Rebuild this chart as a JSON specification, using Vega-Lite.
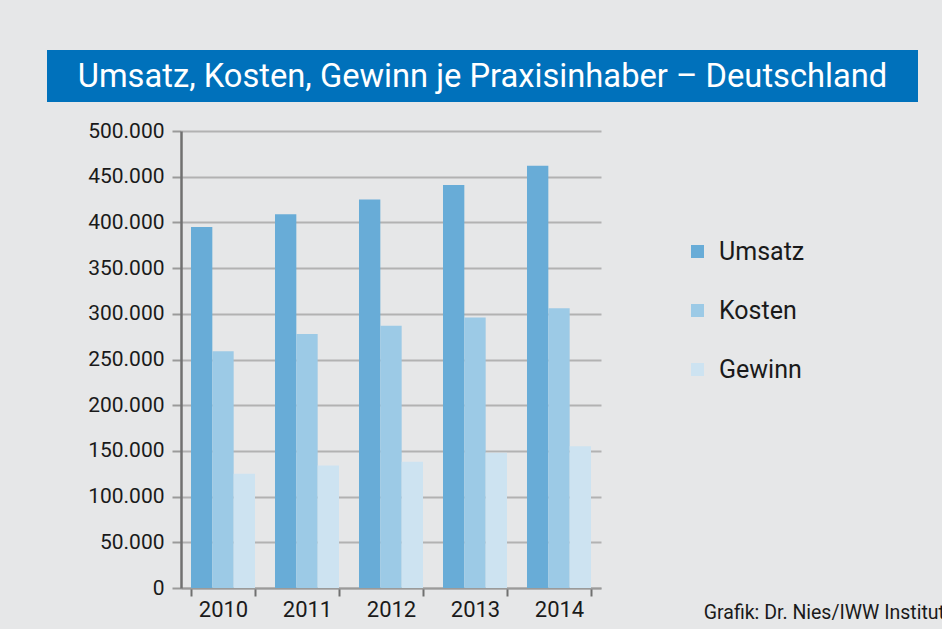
{
  "$schema": "https://vega.github.io/schema/vega-lite/v6.json",
  "background": "#e6e7e8",
  "padding": {"left": 47, "top": 50, "right": 24, "bottom": 8},
  "config": {"view": {"stroke": null}, "font": "Roboto"},
  "spacing": 18,
  "center": true,
  "title": {"text": "Grafik: Dr. Nies/IWW Institut", "orient": "bottom", "anchor": "end", "fontSize": 19.5, "fontWeight": "normal", "color": "#1a1a1a", "font": "Roboto", "offset": -16, "dx": 27},
  "vconcat": [
    {
      "width": 871,
      "height": 52,
      "view": {"fill": "#0071bb", "stroke": null},
      "data": {"values": [{"title": "Umsatz, Kosten, Gewinn je Praxisinhaber – Deutschland"}]},
      "mark": {"type": "text", "color": "white", "fontSize": 32.7, "align": "center", "baseline": "middle", "font": "Roboto", "dy": 1}, 
      "encoding": {
        "text": {"field": "title"},
        "x": {"datum": 0.5, "type": "quantitative", "scale": {"domain": [0, 1]}, "axis": null},
        "y": {"datum": 0.5, "type": "quantitative", "scale": {"domain": [0, 1]}, "axis": null}
      }
    },
    {
      "width": 420,
      "height": 457,
      "data": {"values": [
        {"year": "2010", "series": "Umsatz", "value": 395000},
        {"year": "2010", "series": "Kosten", "value": 259000},
        {"year": "2010", "series": "Gewinn", "value": 125000},
        {"year": "2011", "series": "Umsatz", "value": 409000},
        {"year": "2011", "series": "Kosten", "value": 278000},
        {"year": "2011", "series": "Gewinn", "value": 134000},
        {"year": "2012", "series": "Umsatz", "value": 425000},
        {"year": "2012", "series": "Kosten", "value": 287000},
        {"year": "2012", "series": "Gewinn", "value": 138000},
        {"year": "2013", "series": "Umsatz", "value": 441000},
        {"year": "2013", "series": "Kosten", "value": 296000},
        {"year": "2013", "series": "Gewinn", "value": 148000},
        {"year": "2014", "series": "Umsatz", "value": 462000},
        {"year": "2014", "series": "Kosten", "value": 306000},
        {"year": "2014", "series": "Gewinn", "value": 155000}
      ]},
      "mark": {"type": "bar"},
      "encoding": {
        "x": {
          "field": "year", "type": "nominal",
          "scale": {"paddingInner": 0.238, "paddingOuter": 0.119},
          "axis": {"title": ".", "titleOpacity": 0, "titleAlign": "right", "titleX": 603, "titleY": -200, "labelAngle": 0, "tickBand": "extent", "domainColor": "#9a9a9a", "domainWidth": 2, "tickColor": "#707070", "tickWidth": 2, "tickSize": 8, "labelFontSize": 22, "labelColor": "#1a1a1a", "labelPadding": 3}
        },
        "xOffset": {"field": "series", "sort": ["Umsatz", "Kosten", "Gewinn"], "scale": {"paddingInner": 0, "paddingOuter": 0}},
        "y": {
          "field": "value", "type": "quantitative",
          "scale": {"domain": [0, 500000]},
          "axis": {"title": null, "values": [0, 50000, 100000, 150000, 200000, 250000, 300000, 350000, 400000, 450000, 500000], "format": ",d", "labelExpr": "replace(datum.label, ',', '.')", "domainColor": "#707070", "domainWidth": 2.5, "tickColor": "#9a9a9a", "tickWidth": 2, "tickSize": 9, "grid": true, "gridColor": "#b2b2b2", "gridWidth": 2, "labelFontSize": 21, "labelColor": "#1a1a1a", "labelPadding": 8}
        },
        "color": {
          "field": "series", "type": "nominal",
          "scale": {"domain": ["Umsatz", "Kosten", "Gewinn"], "range": ["#68acd7", "#9ccae6", "#cde3f1"]},
          "legend": {"title": null, "orient": "none", "legendX": 638, "legendY": 189, "padding": 0, "symbolType": "square", "symbolSize": 170, "symbolStrokeWidth": 0, "labelFontSize": 25, "labelColor": "#1a1a1a", "labelOffset": 9, "rowPadding": 33}
        }
      }
    }
  ]
}
